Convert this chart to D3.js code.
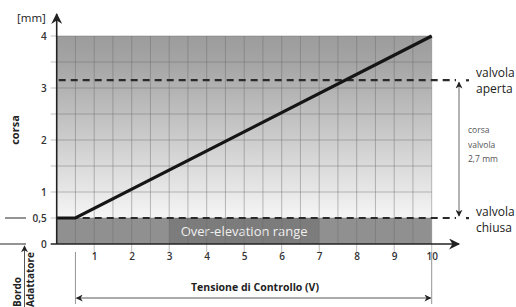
<!DOCTYPE html>
<html>
<head>
<meta charset="utf-8">
<script src="https://cdn.jsdelivr.net/npm/d3@7"></script>
<style>
    body { margin: 0; background: #ffffff; }
    text { font-family: "Open Sans", "DejaVu Sans", sans-serif; }
</style>
</head>
<body>
<div id="chart"></div>
<script>
///////////////////////////////////////////////////////////////////////////////////////////////////

// control voltage (V) vs stroke (mm)
var curve_volts = [0, 0.5, 10];
var curve_mm    = [0.5, 0.5, 4];

var x_ticks = [1, 2, 3, 4, 5, 6, 7, 8, 9, 10];
var y_ticks = [0, 0.5, 1, 2, 3, 4];
var grid_steps = [0.5, 1, 1.5, 2, 2.5, 3, 3.5, 4, 4.5, 5, 5.5, 6, 6.5, 7, 7.5, 8, 8.5, 9, 9.5, 10];
var grid_rows  = [0.5, 1, 1.5, 2, 2.5, 3, 3.5, 4];

var valve_closed = 0.5;
var valve_open   = 3.15;
var over_range   = [3, 7];

///////////////////////////////////////////////////////////////////////////////////////////////////

function draw_chart(element_id) {

    var svg_width = 516, svg_height = 307;
    var svg = d3.select('#' + element_id)
      .append("svg")
        .attr("width",  svg_width)
        .attr("height", svg_height);

    var x = d3.scaleLinear().domain([0, 10]).range([56.7, 431.7]);
    var y = d3.scaleLinear().domain([0, 4]).range([244, 36]);

    var defs = svg.append("defs");
    var grad = defs.append("linearGradient")
        .attr("id", "bg_grad")
        .attr("x1", 0).attr("y1", 0).attr("x2", 0).attr("y2", 1);
    grad.append("stop").attr("offset", "0%").attr("stop-color", "#9c9c9c");
    grad.append("stop").attr("offset", "15%").attr("stop-color", "#a5a5a5");
    grad.append("stop").attr("offset", "100%").attr("stop-color", "#f5f5f5");

    function arrow_marker(id, w, h) {
        defs.append("marker")
            .attr("id", id)
            .attr("viewBox", "0 0 10 10")
            .attr("refX", 9).attr("refY", 5)
            .attr("markerWidth", w).attr("markerHeight", h)
            .attr("markerUnits", "userSpaceOnUse")
            .attr("orient", "auto-start-reverse")
          .append("path")
            .attr("d", "M0,0 L10,5 L0,10 L3,5 Z")
            .attr("fill", "#222");
    } // end function
    arrow_marker("arrow_big", 13, 11);
    arrow_marker("arrow_small", 7, 7);

    // background bands
    svg.append("rect")
        .attr("x", x(0)).attr("y", y(4))
        .attr("width", x(10) - x(0)).attr("height", y(valve_closed) - y(4))
        .attr("fill", "url(#bg_grad)");
    svg.append("rect")
        .attr("x", x(0)).attr("y", y(valve_closed))
        .attr("width", x(10) - x(0)).attr("height", y(0) - y(valve_closed))
        .attr("fill", "#909090");
    svg.append("rect")
        .attr("x", x(over_range[0])).attr("y", y(valve_closed))
        .attr("width", x(over_range[1]) - x(over_range[0])).attr("height", y(0) - y(valve_closed))
        .attr("fill", "#7c7c7c");
    svg.append("text")
        .attr("x", (x(over_range[0]) + x(over_range[1])) / 2)
        .attr("y", (y(0) + y(valve_closed)) / 2 + 4.5)
        .attr("text-anchor", "middle")
        .style("font-size", "13px")
        .style("fill", "#f0f0f0")
        .text("Over-elevation range");

    // grid
    svg.selectAll(".vgrid")
        .data(grid_steps)
        .join("line")
        .attr("class", "vgrid")
        .attr("x1", function(d) { return x(d); })
        .attr("x2", function(d) { return x(d); })
        .attr("y1", y(4))
        .attr("y2", function(d) { return (d % 1 === 0) ? y(0) + 8 : y(0); })
        .attr("stroke", "#6a6a6a")
        .attr("stroke-opacity", 0.55)
        .attr("stroke-width", 0.8);
    svg.selectAll(".hgrid")
        .data(grid_rows)
        .join("line")
        .attr("class", "hgrid")
        .attr("x1", x(0) - 6)
        .attr("x2", x(10))
        .attr("y1", function(d) { return y(d); })
        .attr("y2", function(d) { return y(d); })
        .attr("stroke", "#6a6a6a")
        .attr("stroke-opacity", 0.55)
        .attr("stroke-width", 0.8);

    // valve dashed levels
    svg.selectAll(".level")
        .data([valve_closed, valve_open])
        .join("line")
        .attr("class", "level")
        .attr("x1", x(0) + 2)
        .attr("x2", 456)
        .attr("y1", function(d) { return y(d); })
        .attr("y2", function(d) { return y(d); })
        .attr("stroke", "#2a2a2a")
        .attr("stroke-width", 2.2)
        .attr("stroke-dasharray", "7,5");
    svg.selectAll(".level_dot")
        .data([valve_closed, valve_open])
        .join("rect")
        .attr("class", "level_dot")
        .attr("x", 466).attr("width", 3)
        .attr("y", function(d) { return y(d) - 1; })
        .attr("height", 2.2)
        .attr("fill", "#2a2a2a");

    // stroke curve
    var line = d3.line()
        .x(function(d) { return x(d[0]); })
        .y(function(d) { return y(d[1]); });
    svg.append("path")
        .datum(d3.zip(curve_volts, curve_mm))
        .attr("d", line)
        .attr("fill", "none")
        .attr("stroke", "#151515")
        .attr("stroke-width", 3.2);

    // axes
    svg.append("line")
        .attr("x1", x(0)).attr("y1", y(0))
        .attr("x2", x(0)).attr("y2", 14)
        .attr("stroke", "#222").attr("stroke-width", 1.6)
        .attr("marker-end", "url(#arrow_big)");
    svg.append("line")
        .attr("x1", x(0) - 6).attr("y1", y(0))
        .attr("x2", 459).attr("y2", y(0))
        .attr("stroke", "#222").attr("stroke-width", 1.6)
        .attr("marker-end", "url(#arrow_big)");

    var x_axis = svg.append("g")
        .attr("transform", "translate(0," + y(0) + ")")
        .call(d3.axisBottom(x).tickValues(x_ticks).tickSize(0).tickPadding(9));
    x_axis.select(".domain").remove();
    x_axis.selectAll("text")
        .style("font-family", "'Open Sans', sans-serif")
        .style("font-size", "10px")
        .style("font-weight", "600")
        .style("fill", "#333");

    var y_axis = svg.append("g")
        .attr("transform", "translate(" + x(0) + ",0)")
        .call(d3.axisLeft(y).tickValues(y_ticks).tickSize(0).tickPadding(10)
            .tickFormat(function(d) { return String(d).replace(".", ","); }));
    y_axis.select(".domain").remove();
    y_axis.selectAll("text")
        .style("font-family", "'Open Sans', sans-serif")
        .style("font-size", "10px")
        .style("font-weight", "600")
        .style("fill", "#333");

    // left reference marks
    svg.selectAll(".left_mark")
        .data([{ v: valve_closed, x0: 5 }, { v: 0, x0: 0 }])
        .join("line")
        .attr("class", "left_mark")
        .attr("x1", function(d) { return d.x0; }).attr("x2", 26)
        .attr("y1", function(d) { return y(d.v); })
        .attr("y2", function(d) { return y(d.v); })
        .attr("stroke", "#666").attr("stroke-width", 1.4);
    svg.append("line")
        .attr("x1", 24.5).attr("x2", 24.5)
        .attr("y1", svg_height).attr("y2", y(0) + 2)
        .attr("stroke", "#444").attr("stroke-width", 0.9)
        .attr("marker-end", "url(#arrow_small)");

    svg.append("text")
        .attr("x", 17).attr("y", 22)
        .style("font-size", "11.5px").style("fill", "#222")
        .text("[mm]");
    svg.append("text")
        .attr("transform", "translate(19," + 130 + ") rotate(-90)")
        .attr("text-anchor", "middle")
        .style("font-size", "11px").style("font-weight", "bold").style("fill", "#222")
        .text("corsa");
    svg.append("text")
        .attr("transform", "translate(21," + 307 + ") rotate(-90)")
        .style("font-size", "10px").style("font-weight", "bold").style("fill", "#222")
        .text("Bordo");
    svg.append("text")
        .attr("transform", "translate(33.5," + 307 + ") rotate(-90)")
        .style("font-size", "10px").style("font-weight", "bold").style("fill", "#222")
        .text("Adattatore");

    // voltage span arrow
    svg.selectAll(".span_edge")
        .data([0.5, 10])
        .join("line")
        .attr("class", "span_edge")
        .attr("x1", function(d) { return x(d); })
        .attr("x2", function(d) { return x(d); })
        .attr("y1", y(0) + 8)
        .attr("y2", 304)
        .attr("stroke", "#888").attr("stroke-width", 0.9);
    svg.append("line")
        .attr("x1", x(0.5) + 1).attr("x2", x(10) - 1)
        .attr("y1", 298).attr("y2", 298)
        .attr("stroke", "#444").attr("stroke-width", 0.9)
        .attr("marker-start", "url(#arrow_small)")
        .attr("marker-end", "url(#arrow_small)");
    svg.append("text")
        .attr("x", 255).attr("y", 291)
        .attr("text-anchor", "middle")
        .style("font-size", "10.5px").style("font-weight", "bold").style("fill", "#222")
        .text("Tensione di Controllo (V)");

    // valve stroke arrow on the right
    svg.append("line")
        .attr("x1", 459).attr("x2", 459)
        .attr("y1", y(valve_open) + 2).attr("y2", y(valve_closed) - 2)
        .attr("stroke", "#555").attr("stroke-width", 0.9)
        .attr("marker-start", "url(#arrow_small)")
        .attr("marker-end", "url(#arrow_small)");

    var right_labels = [
        { y: y(valve_open) - 3,    lines: ["valvola", "aperta"] },
        { y: y(valve_closed) - 2,  lines: ["valvola", "chiusa"] }
    ];
    right_labels.forEach(function(lab) {
        lab.lines.forEach(function(t, i) {
            svg.append("text")
                .attr("x", 476).attr("y", lab.y + i * 16)
                .style("font-size", "12px").style("fill", "#222")
                .text(t);
        });
    });
    ["corsa", "valvola", "2,7 mm"].forEach(function(t, i) {
        svg.append("text")
            .attr("x", 468).attr("y", 133 + i * 14.5)
            .style("font-size", "8.5px").style("fill", "#555")
            .text(t);
    });

} // end function

///////////////////////////////////////////////////////////////////////////////////////////////////

draw_chart("chart");
</script>
</body>
</html>
